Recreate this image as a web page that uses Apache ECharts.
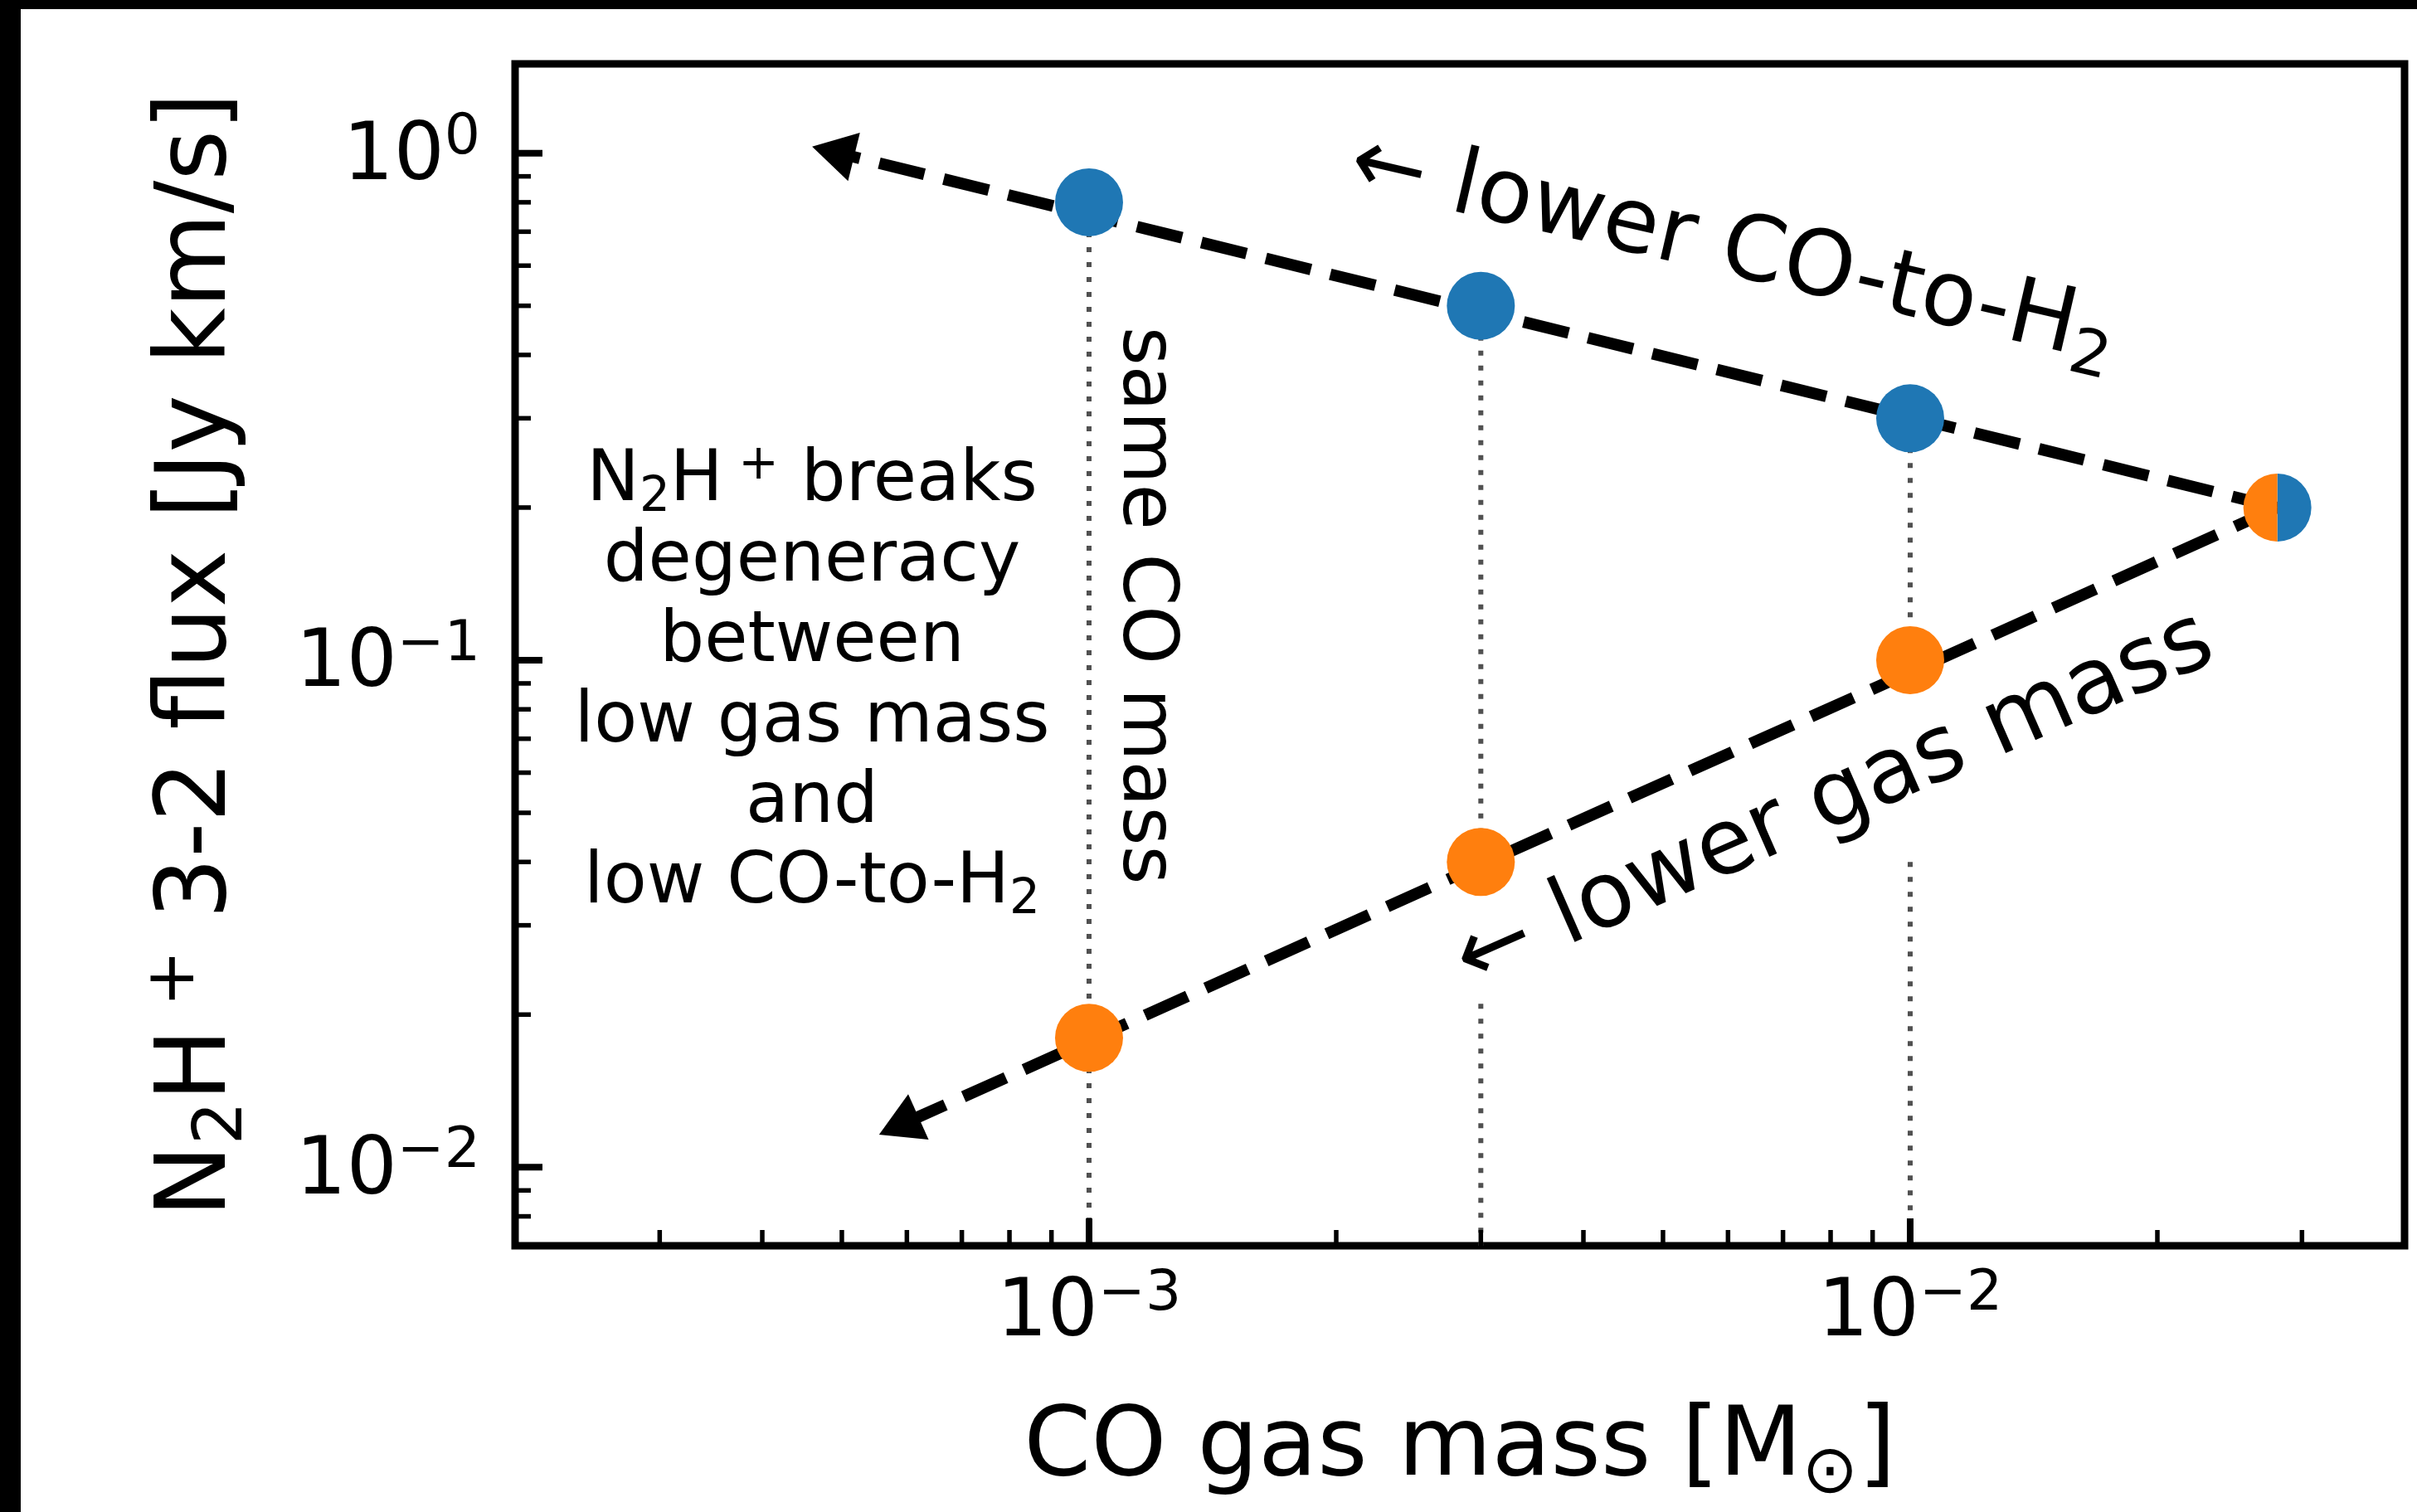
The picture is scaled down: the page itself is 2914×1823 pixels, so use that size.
<!DOCTYPE html>
<html>
<head>
<meta charset="utf-8">
<script src="https://cdn.jsdelivr.net/npm/echarts@6/dist/echarts.min.js"></script>
<style>
  html, body { margin: 0; padding: 0; background: #fff; }
  #chart { width: 2914px; height: 1823px; }
</style>
</head>
<body>
<div id="chart"></div>
<script>
const FONT = 'DejaVu Sans';

// CO gas mass of the model grid [Msun]
const coMass = [1e-3, 3e-3, 1e-2];
// N2H+ 3-2 flux [Jy km/s]: same CO mass reached with a lower CO-to-H2 ratio
const fluxLowCOtoH2 = [0.8, 0.5, 0.3];
// N2H+ 3-2 flux [Jy km/s]: same CO mass reached with a lower total gas mass
const fluxLowGasMass = [0.018, 0.04, 0.1];
// Fiducial model shared by both tracks [CO mass, flux]
const fiducial = [0.028, 0.2];
// Where the two trend arrows point [CO mass, flux]
const tipCOtoH2 = [4.6e-4, 1.03];
const tipGasMass = [5.55e-4, 0.0116];
// Lower guide segments restart below the "lower gas mass" label
const guideBreakTop = [null, 0.021, 0.04];
// Axis ranges
const xRange = [2e-4, 0.04];
const yRange = [0.007, 1.5];
// Tick values
const xMajorTicks = [1e-3, 1e-2];
const xMinorTicks = [3e-4, 4e-4, 5e-4, 6e-4, 7e-4, 8e-4, 9e-4,
                     2e-3, 3e-3, 4e-3, 5e-3, 6e-3, 7e-3, 8e-3, 9e-3,
                     2e-2, 3e-2];
const yMajorTicks = [1e-2, 1e-1, 1];
const yMinorTicks = [8e-3, 9e-3,
                     2e-2, 3e-2, 4e-2, 5e-2, 6e-2, 7e-2, 8e-2, 9e-2,
                     2e-1, 3e-1, 4e-1, 5e-1, 6e-1, 7e-1, 8e-1, 9e-1];

const BLUE = '#1f77b4';
const ORANGE = '#ff7f0e';

// vertical guide segments [x, yFrom, yTo]
const guides = [];
coMass.forEach((m, i) => {
  if (guideBreakTop[i] == null) {
    guides.push([m, fluxLowCOtoH2[i], yRange[0]]);
  } else {
    guides.push([m, fluxLowCOtoH2[i], fluxLowGasMass[i]]);
    guides.push([m, guideBreakTop[i], yRange[0]]);
  }
});

const xTickData = xMajorTicks.map(v => [v, yRange[0], 1]).concat(xMinorTicks.map(v => [v, yRange[0], 0]));
const yTickData = yMajorTicks.map(v => [xRange[0], v, 1]).concat(yMinorTicks.map(v => [xRange[0], v, 0]));

function powLabel(v) {
  const lg = Math.log10(v);
  const e = Math.round(lg);
  if (Math.abs(lg - e) > 1e-6) return '';
  return '{b|10}{s|' + (e < 0 ? '\u2212' + (-e) : String(e)) + '}';
}
const tickRich = {
  b: { fontFamily: FONT, fontSize: 96, lineHeight: 116, color: '#000' },
  s: { fontFamily: FONT, fontSize: 68, lineHeight: 68, verticalAlign: 'top', color: '#000' }
};

function renderTick(horizontal) {
  return function (params, api) {
    const p = api.coord([api.value(0), api.value(1)]);
    const major = api.value(2) === 1;
    const len = major ? 33 : 19;
    const shape = horizontal
      ? { x1: p[0], y1: p[1], x2: p[0] + len, y2: p[1] }
      : { x1: p[0], y1: p[1], x2: p[0], y2: p[1] - len };
    return { type: 'line', shape, style: { stroke: '#000', lineWidth: major ? 8 : 5.5 } };
  };
}

function renderGuide(params, api) {
  const a = api.coord([api.value(0), api.value(1)]);
  const b = api.coord([api.value(0), api.value(2)]);
  return {
    type: 'line',
    shape: { x1: a[0], y1: a[1], x2: b[0], y2: b[1] },
    style: { stroke: '#505050', lineWidth: 6, lineDash: [6, 12], lineCap: 'butt' }
  };
}

function renderArrow(params, api) {
  const p0 = api.coord([api.value(0), api.value(1)]);
  const p1 = api.coord([api.value(2), api.value(3)]);
  const dx = p1[0] - p0[0], dy = p1[1] - p0[1];
  const len = Math.hypot(dx, dy);
  const ux = dx / len, uy = dy / len;
  const headLen = 52, headHalf = 30;
  const bx = p1[0] - ux * headLen, by = p1[1] - uy * headLen;
  return {
    type: 'group',
    children: [
      {
        type: 'line',
        shape: { x1: p0[0], y1: p0[1], x2: bx + ux * 4, y2: by + uy * 4 },
        style: { stroke: '#000', lineWidth: 14, lineDash: [56, 24], lineCap: 'butt' }
      },
      {
        type: 'polygon',
        shape: { points: [[p1[0], p1[1]], [bx - uy * headHalf, by + ux * headHalf], [bx + uy * headHalf, by - ux * headHalf]] },
        style: { fill: '#000' }
      }
    ]
  };
}

function renderSplitMarker(params, api) {
  const p = api.coord([api.value(0), api.value(1)]);
  const r = 41;
  return {
    type: 'group',
    children: [
      { type: 'sector', shape: { cx: p[0], cy: p[1], r0: 0, r: r, startAngle: -Math.PI / 2, endAngle: Math.PI / 2, clockwise: true }, style: { fill: BLUE } },
      { type: 'sector', shape: { cx: p[0], cy: p[1], r0: 0, r: r, startAngle: Math.PI / 2, endAngle: Math.PI * 1.5, clockwise: true }, style: { fill: ORANGE } }
    ]
  };
}

const subSup = (size, subH, supH) => ({
  sub: { fontFamily: FONT, fontSize: size, lineHeight: subH, verticalAlign: 'bottom', color: '#000' },
  sup: { fontFamily: FONT, fontSize: size, lineHeight: supH, verticalAlign: 'top', color: '#000' }
});

function textEl(x, y, text, size, lineHeight, rotDeg, rich) {
  return {
    type: 'text',
    x: x, y: y,
    rotation: rotDeg * Math.PI / 180,
    z: 10,
    style: {
      text: text,
      fontFamily: FONT,
      fontSize: size,
      lineHeight: lineHeight,
      fill: '#000',
      align: 'center',
      verticalAlign: 'middle',
      rich: rich || {}
    }
  };
}

const blockRich = subSup(58, 54, 55);
const blockLines = ['N{sub|2}H{sup| +} breaks', 'degeneracy', 'between', 'low gas mass', 'and', 'low CO-to-H{sub|2}'];

const graphics = [
  { type: 'rect', shape: { x: 0, y: 0, width: 2914, height: 11 }, style: { fill: '#000' }, z: 100 },
  { type: 'rect', shape: { x: 0, y: 0, width: 25, height: 1823 }, style: { fill: '#000' }, z: 100 },
  textEl(1378, 730, 'same CO mass', 90, 100, -90),
  textEl(2089, 303, '\u2190 lower CO-to-H{sub|2}', 109, 134, -13, subSup(76, 78, 78)),
  textEl(2212, 967, '\u2190 lower gas mass', 110.5, 134, 23.7)
];
blockLines.forEach((t, i) => graphics.push(textEl(979, 581 + i * 97, t, 85, 97, 0, blockRich)));

const chart = echarts.init(document.getElementById('chart'), null, { renderer: 'canvas', width: 2914, height: 1823 });

chart.setOption({
  animation: false,
  backgroundColor: '#fff',
  grid: {
    left: 621, top: 77, width: 2278, height: 1425,
    show: true, borderColor: '#000', borderWidth: 9, backgroundColor: 'transparent'
  },
  xAxis: {
    type: 'log', logBase: 10, min: xRange[0], max: xRange[1],
    axisLine: { show: false }, axisTick: { show: false },
    splitLine: { show: false }, minorTick: { show: false }, minorSplitLine: { show: false },
    axisLabel: { formatter: powLabel, margin: 25, rich: tickRich, color: '#000' },
    name: 'CO gas mass [M{sub|\u2299}]',
    nameLocation: 'middle', nameGap: 176,
    nameTextStyle: {
      fontFamily: FONT, fontSize: 116, lineHeight: 140, color: '#000',
      rich: { sub: { fontFamily: FONT, fontSize: 81, lineHeight: 83, verticalAlign: 'bottom', color: '#000' } }
    }
  },
  yAxis: {
    type: 'log', logBase: 10, min: yRange[0], max: yRange[1],
    axisLine: { show: false }, axisTick: { show: false },
    splitLine: { show: false }, minorTick: { show: false }, minorSplitLine: { show: false },
    axisLabel: { formatter: powLabel, margin: 42, rich: tickRich, color: '#000', padding: [13, 0, 0, 0] },
    name: 'N{sub|2}H{sup| +} 3-2 flux [Jy km/s]',
    nameLocation: 'middle', nameGap: 310, nameRotate: 90,
    nameTextStyle: {
      fontFamily: FONT, fontSize: 117, lineHeight: 140, color: '#000',
      rich: subSup(82, 81, 84)
    }
  },
  graphic: graphics,
  series: [
    { type: 'custom', name: 'guides', z: 2, data: guides, encode: { x: 0, y: [1, 2] }, renderItem: renderGuide, silent: true },
    { type: 'custom', name: 'xticks', z: 6, data: xTickData, encode: { x: 0, y: 1 }, renderItem: renderTick(false), silent: true },
    { type: 'custom', name: 'yticks', z: 6, data: yTickData, encode: { x: 0, y: 1 }, renderItem: renderTick(true), silent: true },
    {
      type: 'custom', name: 'trends', z: 3, silent: true,
      data: [[fiducial[0], fiducial[1], tipCOtoH2[0], tipCOtoH2[1]],
             [fiducial[0], fiducial[1], tipGasMass[0], tipGasMass[1]]],
      encode: { x: [0, 2], y: [1, 3] },
      renderItem: renderArrow
    },
    {
      type: 'scatter', name: 'lower CO-to-H2', z: 4, symbol: 'circle', symbolSize: 82,
      itemStyle: { color: BLUE, opacity: 1 },
      data: coMass.map((m, i) => [m, fluxLowCOtoH2[i]])
    },
    {
      type: 'scatter', name: 'lower gas mass', z: 4, symbol: 'circle', symbolSize: 82,
      itemStyle: { color: ORANGE, opacity: 1 },
      data: coMass.map((m, i) => [m, fluxLowGasMass[i]])
    },
    { type: 'custom', name: 'fiducial', z: 4, data: [fiducial], encode: { x: 0, y: 1 }, renderItem: renderSplitMarker }
  ]
});
</script>
</body>
</html>
